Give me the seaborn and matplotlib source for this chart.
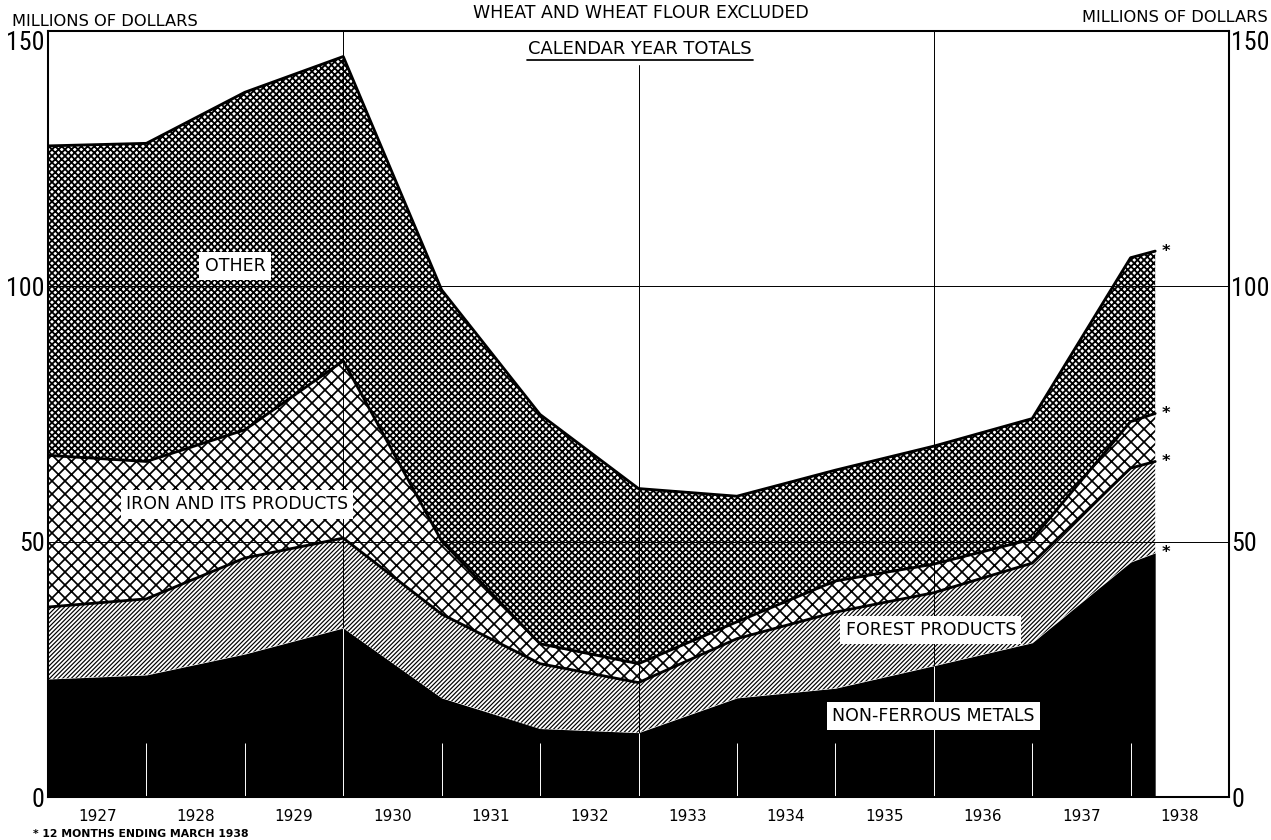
import numpy as np
import matplotlib
matplotlib.use("Agg")
import matplotlib.pyplot as plt
from matplotlib import font_manager
import seaborn as sns

###########################################
# Data (millions of dollars)
###########################################

# positions of the yearly points; the last one is "12 months ending March 1938"
x_points = [0, 1, 2, 3, 4, 5, 6, 7, 8, 9, 10, 11, 11.25]
year_labels = ["1927", "1928", "1929", "1930", "1931", "1932",
               "1933", "1934", "1935", "1936", "1937", "1938"]

non_ferrous = [23.1, 23.9, 28.0, 33.1, 19.4, 13.4, 12.6, 19.4, 21.3, 25.7, 30.2, 46.0, 47.8]
forest = [14.1, 14.9, 18.8, 17.6, 16.4, 12.7, 9.8, 11.6, 14.9, 14.3, 15.6, 18.4, 17.9]
iron = [29.7, 26.9, 25.1, 34.7, 14.3, 3.9, 3.7, 3.3, 6.1, 5.6, 4.7, 9.1, 9.4]
other = [60.6, 62.3, 66.1, 59.6, 49.2, 44.9, 34.3, 24.6, 21.7, 23.1, 23.6, 32.1, 31.8]

y_ticks = [0, 50, 100, 150]

###########################################
# Figure setup
###########################################

sns.set_theme(style="white")
plt.rcParams["font.family"] = ["DejaVu Sans"]
for key in ("text.color", "xtick.color", "ytick.color", "axes.labelcolor"):
    plt.rcParams[key] = "black"

# narrow face for the big axis numbers
available = {f.name for f in font_manager.fontManager.ttflist}
narrow = None
for name in ["Liberation Sans Narrow", "Roboto Condensed", "Open Sans Condensed",
             "Noto Sans Condensed", "DejaVu Sans Condensed"]:
    if name in available:
        narrow = name
        break
if narrow:
    num_font, num_size = narrow, 24
else:
    num_font, num_size = "Roboto", 19

DPI = 78
fig = plt.figure(figsize=(1271 / DPI, 840 / DPI), dpi=DPI, facecolor="white")
ax = fig.add_axes([48 / 1271, 43 / 840, 1181 / 1271, 766 / 840])
ax.set_facecolor("white")

x = np.array(x_points)
top1 = np.array(non_ferrous)
top2 = top1 + np.array(forest)
top3 = top2 + np.array(iron)
top4 = top3 + np.array(other)


def layer(lo, hi, hatch, hlw):
    with plt.rc_context({"hatch.linewidth": hlw}):
        coll = ax.fill_between(x, lo, hi, facecolor="white", edgecolor="black",
                               hatch=hatch, lw=0, zorder=1)
    if hasattr(coll, "set_hatch_linewidth"):
        coll.set_hatch_linewidth(hlw)
    return coll


# stacked layers
ax.fill_between(x, 0, top1, facecolor="black", edgecolor="black", lw=0, zorder=1)
layer(top1, top2, "//////", 1.1)
layer(top2, top3, "xx", 1.6)
layer(top3, top4, "xxxx", 1.7)

for top in (top2, top3, top4):
    sns.lineplot(x=x, y=top, color="black", lw=2.6, ax=ax, zorder=4)

# grid lines
for yv in (50, 100):
    ax.axhline(yv, color="black", lw=0.9, zorder=3)
ax.axvline(3, color="black", lw=0.9, zorder=3)
ax.axvline(9, color="black", lw=0.9, zorder=3)
ax.axvline(6, ymax=0.955, color="black", lw=0.9, zorder=3)

# white lines where the grid crosses the black layer, and short white ticks
grid_idx = [3, 6, 9]
ax.vlines(x[grid_idx], 0, top1[grid_idx], color="white", lw=0.9, zorder=3.5)
tick_idx = [1, 2, 4, 5, 7, 8, 10, 11]
ax.vlines(x[tick_idx], 0, 10.5, color="white", lw=0.9, zorder=3.5)

# asterisks at the March 1938 ends
for top in (top1, top2, top3, top4):
    ax.text(x[-1] + 0.11, top[-1], "*", fontsize=15, fontweight="bold",
            ha="center", va="center", zorder=5)

###########################################
# Axes, ticks
###########################################

ax.set_xlim(0, 12)
ax.set_ylim(0, 150)
ax.set_xticks(np.arange(len(year_labels)) + 0.5)
ax.set_xticklabels(year_labels, fontsize=14)
ax.tick_params(axis="x", length=0, pad=11)
ax.set_yticks(y_ticks)
ax.set_yticklabels([str(v) for v in y_ticks], fontsize=num_size, family=num_font)
ax.tick_params(axis="y", length=0, pad=3)
for s in ax.spines.values():
    s.set_color("black")
    s.set_linewidth(1.9)
    s.set_zorder(6)

ax2 = ax.twinx()
ax2.set_ylim(0, 150)
ax2.set_yticks(y_ticks)
ax2.set_yticklabels([str(v) for v in y_ticks], fontsize=num_size, family=num_font)
ax2.tick_params(axis="y", length=0, pad=2)
for s in ax2.spines.values():
    s.set_visible(False)

ax.get_yticklabels()[-1].set_va("top")
ax2.get_yticklabels()[-1].set_va("top")

###########################################
# Labels
###########################################

box = dict(boxstyle="square,pad=0.3", fc="white", ec="none")
ax.text(1.90, 104.0, "OTHER", fontsize=16, ha="center", va="center", bbox=box, zorder=5)
ax.text(1.92, 57.3, "IRON AND ITS PRODUCTS", fontsize=16, ha="center", va="center", bbox=box, zorder=5)
ax.text(8.97, 32.7, "FOREST PRODUCTS", fontsize=16, ha="center", va="center", bbox=box, zorder=5)
ax.text(9.0, 15.9, "NON-FERROUS METALS", fontsize=16, ha="center", va="center", bbox=box, zorder=5)

ax.text(0.501, 0.976, "CALENDAR YEAR TOTALS", transform=ax.transAxes,
        fontsize=16.5, ha="center", va="center", zorder=5)
ax.plot([0.406, 0.597], [0.962, 0.962], transform=ax.transAxes, color="black", lw=1.6, zorder=5)

fig.text(12 / 1271, 1 - 22 / 840, "MILLIONS OF DOLLARS", ha="left", va="center", fontsize=15)
fig.text(1268 / 1271, 1 - 17 / 840, "MILLIONS OF DOLLARS", ha="right", va="center", fontsize=15)
fig.text(641 / 1271, 1 - 13 / 840, "WHEAT AND WHEAT FLOUR EXCLUDED", ha="center", va="center", fontsize=16)
fig.text(33 / 1271, 6 / 840, "* 12 MONTHS ENDING MARCH 1938", ha="left", va="center",
         fontsize=10, fontweight="bold")

fig.savefig("out.png", dpi=DPI, facecolor="white")
